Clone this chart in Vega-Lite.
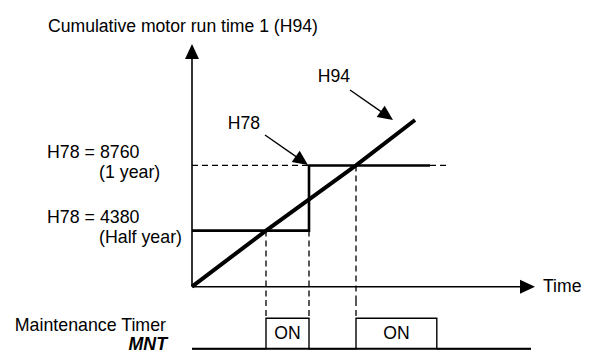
{
  "$schema": "https://vega.github.io/schema/vega-lite/v6.json",
  "padding": 0,
  "bounds": "flush",
  "spacing": 0,
  "background": "white",
  "config": {"view": {"stroke": null}},
  "resolve": {"scale": {"x": "independent", "y": "independent"}},
  "vconcat": [
    {
      "width": 589,
      "height": 300,
      "encoding": {
        "x": {"field": "t", "type": "quantitative", "scale": {"domain": [-48, 99.25], "nice": false, "zero": false}, "axis": null},
        "y": {"field": "h", "type": "quantitative", "scale": {"type": "pow", "exponent": 1.1115, "domain": [-1200, 19000], "nice": false, "zero": false}, "axis": null}
      },
      "layer": [
        {
          "data": {"values": [
            {"t": 0, "t2": 29.25, "h": 8760, "h2": 8760},
            {"t": 59.5, "t2": 64, "h": 8760, "h2": 8760},
            {"t": 18.5, "t2": 18.5, "h": 4380, "h2": -1200},
            {"t": 29.25, "t2": 29.25, "h": 4380, "h2": -1200},
            {"t": 41, "t2": 41, "h": 8760, "h2": -1200}
          ]},
          "mark": {"type": "rule", "strokeDash": [6, 4], "strokeWidth": 1.3, "color": "black"},
          "encoding": {"x2": {"field": "t2"}, "y2": {"field": "h2"}}
        },
        {
          "data": {"values": [
            {"t": 0, "t2": 0, "h": 0, "h2": 15454},
            {"t": 0, "t2": 82, "h": 0, "h2": 0}
          ]},
          "mark": {"type": "rule", "strokeWidth": 1.6, "color": "black"},
          "encoding": {"x2": {"field": "t2"}, "y2": {"field": "h2"}}
        },
        {
          "data": {"values": [
            {"seq": 1, "t": 0, "h": 4380},
            {"seq": 2, "t": 29.25, "h": 4380},
            {"seq": 3, "t": 29.25, "h": 8760},
            {"seq": 4, "t": 59.5, "h": 8760}
          ]},
          "mark": {"type": "line", "strokeWidth": 2.6, "color": "black", "strokeJoin": "miter"},
          "encoding": {"order": {"field": "seq", "type": "quantitative"}}
        },
        {
          "data": {"values": [
            {"t": 0, "h": 0},
            {"t": 18.5, "h": 4380},
            {"t": 41, "h": 8760},
            {"t": 55.75, "h": 11667}
          ]},
          "mark": {"type": "line", "strokeWidth": 4, "color": "black"}
        },
        {
          "data": {"values": [
            {"t": 18.25, "t2": 27.46, "h": 10718, "h2": 9069},
            {"t": 39.5, "t2": 48.71, "h": 13540, "h2": 11936}
          ]},
          "mark": {"type": "rule", "strokeWidth": 1.4, "color": "black"},
          "encoding": {"x2": {"field": "t2"}, "y2": {"field": "h2"}}
        },
        {
          "data": {"values": [{"t": 27.46, "h": 9069}, {"t": 48.71, "h": 11936}]},
          "mark": {"type": "point", "shape": "M0,-1L0.93,1L-0.93,1Z", "size": 225, "filled": true, "color": "black", "opacity": 1, "strokeWidth": 0, "angle": 124.9}
        },
        {
          "data": {"values": [{"t": 0, "h": 15903}]},
          "mark": {"type": "point", "shape": "M0,-1L0.93,1L-0.93,1Z", "size": 225, "filled": true, "color": "black", "opacity": 1, "strokeWidth": 0, "angle": 0}
        },
        {
          "data": {"values": [{"t": 83.875, "h": 0}]},
          "mark": {"type": "point", "shape": "M0,-1L0.93,1L-0.93,1Z", "size": 225, "filled": true, "color": "black", "opacity": 1, "strokeWidth": 0, "angle": 90}
        },
        {
          "data": {"values": [
            {"t": -36, "h": 17400, "label": "Cumulative motor run time 1 (H94)"},
            {"t": 87.75, "h": 0, "label": "Time"}
          ]},
          "mark": {"type": "text", "align": "left", "baseline": "middle", "font": "Liberation Sans", "fontSize": 17.6, "color": "black"},
          "encoding": {"text": {"field": "label"}}
        },
        {
          "data": {"values": [
            {"t": 13, "h": 11416, "label": "H78"},
            {"t": 35.5, "h": 14343, "label": "H94"}
          ]},
          "mark": {"type": "text", "align": "center", "baseline": "middle", "font": "Liberation Sans", "fontSize": 17.6, "color": "black"},
          "encoding": {"text": {"field": "label"}}
        },
        {
          "data": {"values": [
            {"t": -36.25, "h": 4380, "label": "H78 = 4380"},
            {"t": -36.25, "h": 8760, "label": "H78 = 8760"}
          ]},
          "mark": {"type": "text", "align": "left", "baseline": "middle", "dy": -12.5, "font": "Liberation Sans", "fontSize": 17.8, "color": "black"},
          "encoding": {"text": {"field": "label"}}
        },
        {
          "data": {"values": [
            {"t": -23.25, "h": 4380, "label": "(Half year)"},
            {"t": -23.25, "h": 8760, "label": "(1 year)"}
          ]},
          "mark": {"type": "text", "align": "left", "baseline": "middle", "dy": 7.5, "font": "Liberation Sans", "fontSize": 17.8, "color": "black"},
          "encoding": {"text": {"field": "label"}}
        }
      ]
    },
    {
      "width": 589,
      "height": 61,
      "encoding": {
        "x": {"field": "t", "type": "quantitative", "scale": {"domain": [-48, 99.25], "nice": false, "zero": false}, "axis": null},
        "y": {"field": "on", "type": "quantitative", "scale": {"domain": [-0.4, 1.6], "nice": false, "zero": false}, "axis": null}
      },
      "layer": [
        {
          "data": {"values": [
            {"t": 18.5, "on": 1.6, "on2": 1},
            {"t": 29.25, "on": 1.6, "on2": 1},
            {"t": 41, "on": 1.6, "on2": 1}
          ]},
          "mark": {"type": "rule", "strokeDash": [6, 4], "strokeWidth": 1.3, "color": "black"},
          "encoding": {"y2": {"field": "on2"}}
        },
        {
          "data": {"values": [{"t": 0, "t2": 84.75, "on": 0}]},
          "mark": {"type": "rule", "strokeWidth": 2, "color": "black"},
          "encoding": {"x2": {"field": "t2"}}
        },
        {
          "data": {"values": [
            {"t": 0, "on": 0},
            {"t": 18.5, "on": 1},
            {"t": 29.25, "on": 0},
            {"t": 41, "on": 1},
            {"t": 61.2, "on": 0},
            {"t": 84.75, "on": 0}
          ]},
          "mark": {"type": "line", "interpolate": "step-after", "strokeWidth": 1.4, "color": "black"}
        },
        {
          "data": {"values": [
            {"t": 23.875, "on": 0.5, "label": "ON"},
            {"t": 51.1, "on": 0.5, "label": "ON"}
          ]},
          "mark": {"type": "text", "align": "center", "baseline": "middle", "font": "Liberation Sans", "fontSize": 17.6, "color": "black"},
          "encoding": {"text": {"field": "label"}}
        },
        {
          "data": {"values": [{"t": -6.5, "on": 0.75, "label": "Maintenance Timer"}]},
          "mark": {"type": "text", "align": "right", "baseline": "middle", "font": "Liberation Sans", "fontSize": 17.8, "color": "black"},
          "encoding": {"text": {"field": "label"}}
        },
        {
          "data": {"values": [{"t": -6.25, "on": 0.12, "label": "MNT"}]},
          "mark": {"type": "text", "align": "right", "baseline": "middle", "font": "Liberation Sans", "fontSize": 17.8, "fontWeight": "bold", "fontStyle": "italic", "color": "black"},
          "encoding": {"text": {"field": "label"}}
        }
      ]
    }
  ]
}
